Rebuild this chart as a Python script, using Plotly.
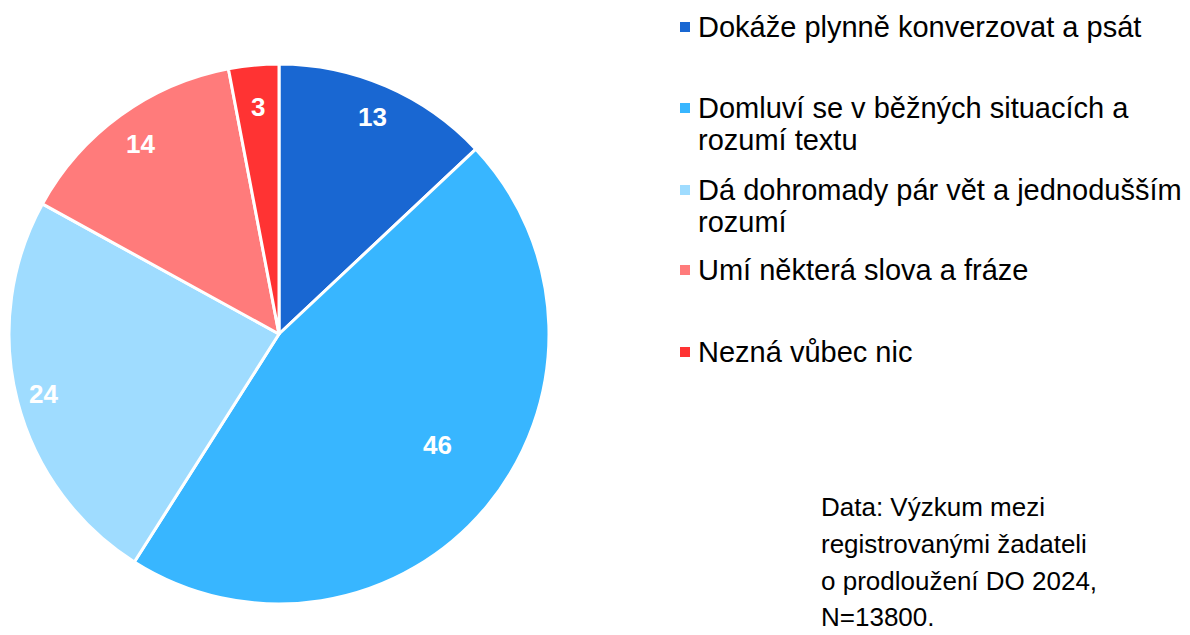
import math
import plotly.graph_objects as go

# ---- data ----
categories = [
    ["Dokáže plynně konverzovat a psát"],
    ["Domluví se v běžných situacích a", "rozumí textu"],
    ["Dá dohromady pár vět a jednodušším", "rozumí"],
    ["Umí některá slova a fráze"],
    ["Nezná vůbec nic"],
]
values = [13, 46, 24, 14, 3]
note_lines = [
    "Data: Výzkum mezi",
    "registrovanými žadateli",
    "o prodloužení DO 2024,",
    "N=13800.",
]

# ---- style ----
colors = ["#1967D2", "#38B6FF", "#9FDCFF", "#FF7B7B", "#FF3333"]
label_r = [0.875, 0.718, 0.90, 0.87, 0.845]
label_dang = [0, -4.7, 0, 0, 0]   # degrees
OFF = 8                      # page body margin
W, H = 1190 - OFF, 635 - OFF
CX, CY, R = 279 - OFF, 334 - OFF, 270
FONT = "Liberation Sans, Arial, sans-serif"
LEG_X = 680 - OFF
LEG_Y = [y - OFF for y in [27, 108, 190, 270, 352]]
LEG_LINE = 32
LEG_FS = 29
NOTE_X = 820 - OFF
NOTE_Y = [y - OFF for y in [507, 544, 581, 617]]
NOTE_FS = 26

fig = go.Figure(go.Pie(
    labels=[" ".join(c) for c in categories],
    values=values,
    sort=False,
    direction="clockwise",
    rotation=0,
    marker=dict(colors=colors, line=dict(color="white", width=3)),
    textinfo="none",
    hoverinfo="label+value",
    showlegend=False,
    domain=dict(x=[(CX - R) / W, (CX + R) / W], y=[1 - (CY + R) / H, 1 - (CY - R) / H]),
))

annotations = []
total = sum(values)
cum = 0
for v, r, da in zip(values, label_r, label_dang):
    mid = (cum + v / 2) / total * 2 * math.pi + math.radians(da)
    cum += v
    px = CX + r * R * math.sin(mid)
    py = CY - r * R * math.cos(mid)
    annotations.append(dict(
        x=px / W, y=1 - py / H, xref="paper", yref="paper", showarrow=False,
        text=f"<b>{v}</b>", font=dict(family=FONT, size=26, color="white"),
        xanchor="center", yanchor="middle"))

shapes = []
for cat, col, yc in zip(categories, colors, LEG_Y):
    shapes.append(dict(type="rect", xref="paper", yref="paper",
                       x0=LEG_X / W, x1=(LEG_X + 10) / W,
                       y0=1 - (yc + 5) / H, y1=1 - (yc - 5) / H,
                       fillcolor=col, line=dict(width=0)))
    for i, line in enumerate(cat):
        annotations.append(dict(
            x=(LEG_X + 16) / W, y=1 - (yc + i * LEG_LINE) / H, xref="paper", yref="paper",
            showarrow=False, text=line, align="left", xanchor="left", yanchor="middle",
            font=dict(family=FONT, size=LEG_FS, color="black")))

for line, yc in zip(note_lines, NOTE_Y):
    annotations.append(dict(
        x=NOTE_X / W, y=1 - yc / H, xref="paper", yref="paper", showarrow=False,
        text=line, align="left", xanchor="left", yanchor="middle", borderpad=0,
        font=dict(family=FONT, size=NOTE_FS, color="black")))

fig.update_layout(
    width=W, height=H,
    margin=dict(l=0, r=0, t=0, b=0),
    paper_bgcolor="white", plot_bgcolor="white",
    annotations=annotations, shapes=shapes,
)
fig.write_html("out.html")
